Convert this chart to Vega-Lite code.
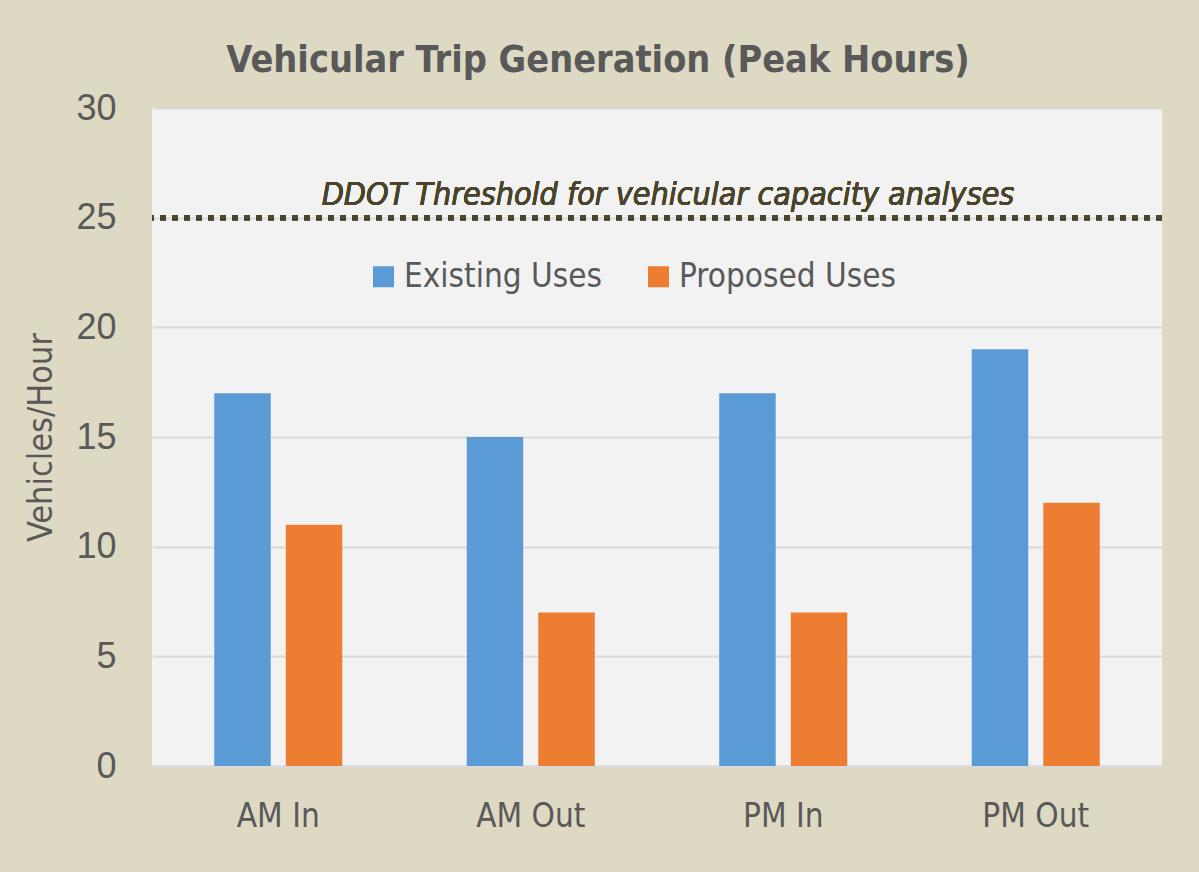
{
  "$schema": "https://vega.github.io/schema/vega-lite/v6.json",
  "autosize": "none",
  "width": 1010,
  "height": 658,
  "padding": {"left": 152, "top": 108, "right": 37, "bottom": 106},
  "background": "#ddd9c3",
  "config": {
    "view": {"fill": "#f2f2f2", "stroke": null},
    "font": "DejaVu Sans Condensed, Liberation Sans"
  },
  "title": {
    "text": "Vehicular Trip Generation (Peak Hours)",
    "font": "DejaVu Sans Condensed, Liberation Sans",
    "fontSize": 37.5,
    "fontWeight": "bold",
    "color": "#595959",
    "anchor": "middle",
    "baseline": "alphabetic",
    "offset": -19,
    "dx": -59
  },
  "data": {
    "values": [
      {"period": "AM In", "use": "Existing Uses", "vehicles": 17},
      {"period": "AM In", "use": "Proposed Uses", "vehicles": 11},
      {"period": "AM Out", "use": "Existing Uses", "vehicles": 15},
      {"period": "AM Out", "use": "Proposed Uses", "vehicles": 7},
      {"period": "PM In", "use": "Existing Uses", "vehicles": 17},
      {"period": "PM In", "use": "Proposed Uses", "vehicles": 7},
      {"period": "PM Out", "use": "Existing Uses", "vehicles": 19},
      {"period": "PM Out", "use": "Proposed Uses", "vehicles": 12}
    ]
  },
  "layer": [
    {
      "mark": {"type": "bar"},
      "encoding": {
        "x": {
          "field": "period",
          "type": "nominal",
          "sort": ["AM In", "AM Out", "PM In", "PM Out"],
          "scale": {"paddingInner": 0.493, "paddingOuter": 0.2465},
          "axis": {
            "title": null,
            "labelAngle": 0,
            "labelFont": "DejaVu Sans Condensed, Liberation Sans",
            "labelFontSize": 33,
            "labelColor": "#595959",
            "labelPadding": 34,
            "ticks": false,
            "domain": true,
            "domainColor": "#d9d9d9",
            "domainWidth": 2
          }
        },
        "xOffset": {
          "field": "use",
          "type": "nominal",
          "scale": {"paddingInner": 0.211, "paddingOuter": 0}
        },
        "y": {
          "field": "vehicles",
          "type": "quantitative",
          "scale": {"domain": [0, 30], "nice": false},
          "axis": {
            "title": "Vehicles/Hour",
            "titleFont": "DejaVu Sans Condensed, Liberation Sans",
            "titleFontSize": 34,
            "titleFontWeight": "normal",
            "titleColor": "#595959",
            "titlePadding": 17,
            "values": [0, 5, 10, 15, 20, 25, 30],
            "labelFont": "Liberation Sans",
            "labelFontSize": 36,
            "labelColor": "#595959",
            "labelPadding": 36,
            "ticks": false,
            "domain": false,
            "grid": true,
            "gridColor": "#d9d9d9",
            "gridWidth": 2
          }
        },
        "color": {
          "field": "use",
          "type": "nominal",
          "scale": {"domain": ["Existing Uses", "Proposed Uses"], "range": ["#5b9bd5", "#ed7d31"]},
          "legend": {
            "title": null,
            "orient": "none",
            "direction": "horizontal",
            "legendX": 215,
            "legendY": 152,
            "symbolType": "square",
            "symbolSize": 441,
            "symbolStrokeWidth": 0,
            "symbolOpacity": 1,
            "labelFont": "DejaVu Sans Condensed, Liberation Sans",
            "labelFontSize": 33,
            "labelColor": "#595959",
            "labelLimit": 0,
            "labelOffset": 4,
            "columnPadding": 40
          }
        }
      }
    },
    {
      "mark": {"type": "rule", "color": "#4a452a", "strokeWidth": 5, "strokeDash": [6, 6]},
      "encoding": {"y": {"datum": 25}}
    },
    {
      "mark": {
        "type": "text",
        "text": "DDOT Threshold for vehicular capacity analyses",
        "font": "DejaVu Sans Condensed, Liberation Sans",
        "fontStyle": "italic",
        "fontSize": 32,
        "color": "#4a452a",
        "align": "center",
        "baseline": "alphabetic",
        "dx": 11,
        "dy": -13
      },
      "encoding": {"y": {"datum": 25}}
    }
  ]
}
